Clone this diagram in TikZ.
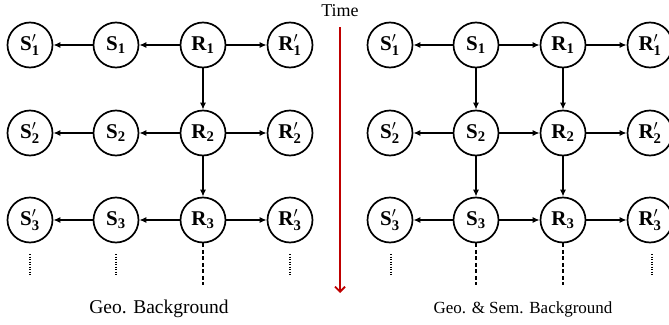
\documentclass[tikz,border=0pt]{standalone}
\usepackage{fontspec}
\setmainfont{Liberation Serif}
\usetikzlibrary{arrows.meta}
\begin{document}
\begin{tikzpicture}[x=1pt,y=-1pt,
  st/.style={circle,draw,line width=1.7pt,minimum size=45pt,inner sep=0pt,font=\fontsize{21}{23}\selectfont\bfseries},
  ar/.style={-{Latex[length=7pt,width=6pt]},line width=1.4pt},
  dots/.style={line width=1.8pt,dash pattern=on 1.2pt off 1.3pt},
  dsh/.style={line width=1.4pt,dash pattern=on 4pt off 2.5pt},
  captxt/.style={font=\fontsize{18}{20}\selectfont}]
\useasboundingbox (0,0) rectangle (669,324);
\foreach \r/\y in {1/45,2/133,3/220}{
  \node[st] (a\r) at (30,\y) {$\mathbf{S}'_{\mathbf{\r}}$};
  \node[st] (b\r) at (116,\y) {$\mathbf{S}_{\mathbf{\r}}$};
  \node[st] (c\r) at (203,\y) {$\mathbf{R}_{\mathbf{\r}}$};
  \node[st] (d\r) at (290,\y) {$\mathbf{R}'_{\mathbf{\r}}$};
  \draw[ar] (b\r) -- (a\r);
  \draw[ar] (c\r) -- (b\r);
  \draw[ar] (c\r) -- (d\r);
  \node[st] (e\r) at (390,\y) {$\mathbf{S}'_{\mathbf{\r}}$};
  \node[st] (f\r) at (476,\y) {$\mathbf{S}_{\mathbf{\r}}$};
  \node[st] (g\r) at (563,\y) {$\mathbf{R}_{\mathbf{\r}}$};
  \node[st] (h\r) at (650,\y) {$\mathbf{R}'_{\mathbf{\r}}$};
  \draw[ar] (f\r) -- (e\r);
  \draw[ar] (f\r) -- (g\r);
  \draw[ar] (g\r) -- (h\r);
}
\draw[ar] (c1) -- (c2);
\draw[ar] (c2) -- (c3);
\draw[ar] (f1) -- (f2);
\draw[ar] (f2) -- (f3);
\draw[ar] (g1) -- (g2);
\draw[ar] (g2) -- (g3);
\coordinate (ta) at (30,276); \draw[dots] (30,254) -- (ta);
\coordinate (tb) at (116,276); \draw[dots] (116,254) -- (tb);
\coordinate (tc) at (203,285); \draw[dsh] (c3) -- (tc);
\coordinate (td) at (290,276); \draw[dots] (290,254) -- (td);
\coordinate (te) at (391,276); \draw[dots] (391,254) -- (te);
\coordinate (tf) at (476,285); \draw[dsh] (f3) -- (tf);
\coordinate (tg) at (563,285); \draw[dsh] (g3) -- (tg);
\coordinate (th) at (652,276); \draw[dots] (652,254) -- (th);
\node[captxt] (time) at (340,11) {Time};
\coordinate (tend) at (340,293);
\draw[red!75!black,line width=1.8pt,-{Straight Barb[length=5pt,width=10pt]}] (340,27) -- (tend);
\node[captxt,font=\fontsize{19.5}{21}\selectfont] (capl) at (159,309) {Geo. Background};
\node[captxt,font=\fontsize{17}{19}\selectfont] (capr) at (523,309) {Geo. \& Sem. Background};
\end{tikzpicture}
\end{document}
